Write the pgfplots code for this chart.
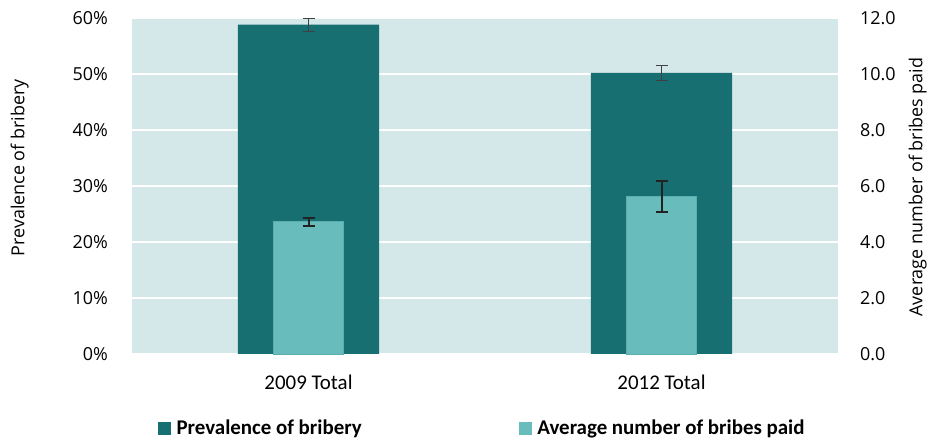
\documentclass[border=0pt]{standalone}
\usepackage{pgfplots}
\pgfplotsset{compat=1.18}
\usepackage{fontspec}
\setmainfont{Open Sans}
\newfontfamily\calfont{Carlito}
\definecolor{bgc}{HTML}{D4E8EA}
\definecolor{darkb}{HTML}{176F72}
\definecolor{lightb}{HTML}{68BCBB}
\definecolor{lightedge}{HTML}{5AAEAD}
\definecolor{errthin}{HTML}{404040}
\definecolor{errthick}{HTML}{222222}

\begin{document}
\begin{tikzpicture}
\path[use as bounding box] (0,0) rectangle (928bp,438bp);
\pgfplotsset{
  base/.style={
    at={(132bp,84bp)}, anchor=south west,
    scale only axis, width=706bp, height=336bp,
    xmin=-0.5, xmax=1.5, ymin=0,
    ybar, clip=false,
    axis line style={draw=none},
    major tick length=0pt,
    tick label style={font=\fontsize{18}{20}\selectfont},
  }
}
% left axis: prevalence
\begin{axis}[base,
  ymax=60, ytick={0,10,...,60},
  yticklabels={0\%,10\%,20\%,30\%,40\%,50\%,60\%},
  yticklabel style={anchor=east, inner sep=0pt, xshift=-24bp},
  axis background/.style={fill=bgc},
  ymajorgrids, grid style={white, line width=2.5bp},
  xtick={0,1}, xticklabels={2009 Total, 2012 Total},
  xticklabel style={font=\calfont\fontsize{21}{24}\selectfont, anchor=center, inner sep=0pt, yshift=-28bp},
  ylabel={Prevalence of bribery},
  every axis y label/.style={at={(axis description cs:-0.159,0.554)}, anchor=center, rotate=90, font=\fontsize{18}{20}\selectfont},
  bar width=0.4,
]
\addplot[fill=darkb, draw=none,
  error bars/.cd, y dir=both, y explicit,
  error bar style={errthin, line width=1bp},
  error mark=-, error mark options={rotate=90, errthin, mark size=6bp, line width=1bp}]
  coordinates {(0,58.8) +- (0,1.2) (1,50.2) +- (0,1.3)};
\end{axis}
% right axis: average number of bribes
\begin{axis}[base,
  axis y line*=right, hide x axis,
  ymax=12, ytick={0,2,...,12},
  yticklabels={0.0,2.0,4.0,6.0,8.0,10.0,12.0},
  yticklabel style={anchor=west, inner sep=0pt, xshift=22bp},
  ylabel={Average number of bribes paid},
  every axis y label/.style={at={(axis description cs:1.113,0.497)}, anchor=center, rotate=90, font=\fontsize{18}{20}\selectfont},
  bar width=0.2,
  legend style={at={(axis description cs:0.0368,-0.220)}, anchor=west,
    draw=none, fill=none, inner sep=0pt, legend columns=2,
    font=\calfont\bfseries\fontsize{21}{24}\selectfont,
    /tikz/every odd column/.style={column sep=4bp}},
  legend cell align=left,
]
\addlegendimage{legend image code/.code={\fill[darkb] (0bp,-6bp) rectangle (12bp,6bp);}}
\addlegendentry{\makebox[340bp][l]{Prevalence of bribery}}
\addplot[fill=lightb, draw=lightedge, line width=0.8bp,
  legend image code/.code={\fill[lightb] (0bp,-6bp) rectangle (12bp,6bp);},
  error bars/.cd, y dir=both, y explicit,
  error bar style={errthick, line width=2bp},
  error mark=-, error mark options={rotate=90, errthick, mark size=6bp, line width=2bp}]
  coordinates {(0,4.72) +- (0,0.15) (1,5.62) +- (0,0.55)};
\addlegendentry{Average number of bribes paid}
\end{axis}
\end{tikzpicture}
\end{document}
